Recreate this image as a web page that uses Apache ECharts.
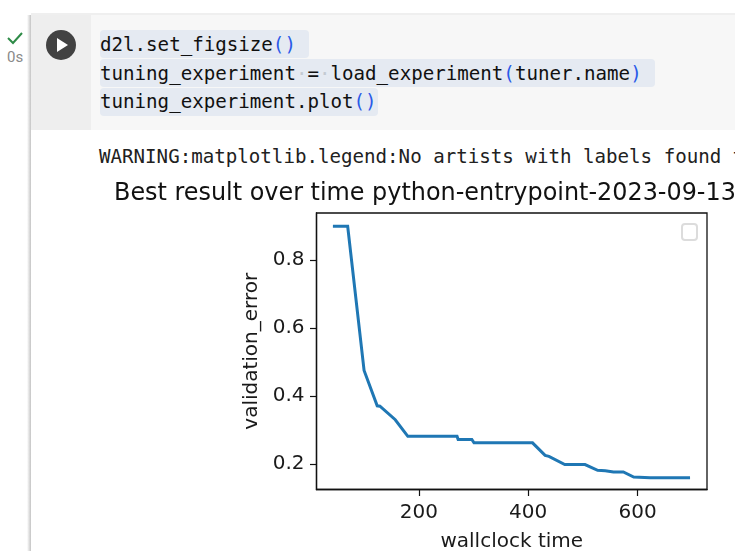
<!DOCTYPE html>
<html><head><meta charset="utf-8">
<style>
html,body{margin:0;padding:0;width:735px;height:551px;overflow:hidden;background:#fff;font-family:Roboto,sans-serif}
.abs{position:absolute}
#topshade{left:31px;top:13px;width:704px;height:2px;background:#efefef}
#shadow{left:27px;top:15px;width:4px;height:536px;background:linear-gradient(to right,#fff,#c4c4c4)}
#gutter{left:31px;top:15px;width:60px;height:115px;background:#eeeeee}
#cell{left:91px;top:15px;width:644px;height:115px;background:#f7f7f7}
.hl{background:#e5eaf2;border-radius:4px;height:28px}
.code{font-family:"DejaVu Sans Mono",monospace;font-size:19.15px;line-height:28px;color:#111;white-space:pre;left:100px}
.code b{font-weight:normal;color:#2a5ae8}
.code i{font-style:normal;color:#c4cad2}
#warn{left:99px;top:145px;font-family:"DejaVu Sans Mono",monospace;font-size:19.15px;line-height:24px;color:#212121;white-space:pre}
#t0{left:7px;top:48px;font-size:15px;color:#8a8a8a}
#chart{left:0;top:0;width:735px;height:551px}
</style></head><body>
<div class="abs" id="topshade"></div>
<div class="abs" id="shadow"></div>
<div class="abs" id="gutter"></div>
<div class="abs" id="cell"></div>
<div class="abs hl" style="left:100px;top:30px;width:209px"></div>
<div class="abs hl" style="left:100px;top:59px;width:555px"></div>
<div class="abs hl" style="left:100px;top:88px;width:278px"></div>
<div class="abs code" style="top:31px">d2l.set_figsize<b>()</b></div>
<div class="abs code" style="top:60px">tuning_experiment<i>·</i>=<i>·</i>load_experiment<b>(</b>tuner.name<b>)</b></div>
<div class="abs code" style="top:88px">tuning_experiment.plot<b>()</b></div>
<div class="abs" id="warn">WARNING:matplotlib.legend:No artists with labels found t</div>
<svg class="abs" style="left:5px;top:30px" width="20" height="16"><path d="M3 8 L8 13 L17 3" fill="none" stroke="#2e8b47" stroke-width="2"/></svg>
<div class="abs" id="t0">0s</div>
<svg class="abs" style="left:46px;top:30px" width="30" height="30"><circle cx="15" cy="15" r="15" fill="#424242"/><path d="M11 8 L22 15 L11 22 Z" fill="#fff"/></svg>
<div class="abs" id="chart"></div>
<script src="https://cdn.jsdelivr.net/npm/echarts@6/dist/echarts.min.js"></script>
<script>
const titleText = "Best result over time python-entrypoint-2023-09-13";
const xLabel = "wallclock time";
const yLabel = "validation_error";
const xTicks = [200, 400, 600];
const yTicks = [0.2, 0.4, 0.6, 0.8];
const wallclock = [43, 70, 100, 124, 129, 157, 180, 270, 272, 297, 301, 408, 431, 438, 467, 504, 527, 541, 556, 574, 593, 623, 696];
const validationError = [0.9, 0.9, 0.475, 0.371, 0.37, 0.33, 0.281, 0.281, 0.272, 0.272, 0.262, 0.262, 0.225, 0.222, 0.198, 0.198, 0.181, 0.18, 0.176, 0.176, 0.161, 0.159, 0.159];

const chart = echarts.init(document.getElementById('chart'), null, {renderer: 'canvas'});
const font = '"DejaVu Sans"';
const axisCommon = {
  axisLine: {show: true, lineStyle: {color: '#111', width: 1.3}},
  splitLine: {show: false},
  nameLocation: 'middle',
  nameTextStyle: {fontFamily: font, fontSize: 20, color: '#1a1a1a'}
};
chart.setOption({
  animation: false,
  backgroundColor: 'transparent',
  title: {text: titleText, left: 114, top: 182, padding: 0,
    textStyle: {fontFamily: font, fontSize: 23.9, fontWeight: 'normal', color: '#111'}},
  grid: {left: 316.5, top: 213, width: 390.5, height: 276.5, show: true, outerBoundsMode: 'none', borderColor: '#111', borderWidth: 1.3, backgroundColor: '#fff'},
  xAxis: Object.assign({}, axisCommon, {
    type: 'value', min: 13, max: 727, name: xLabel, nameGap: 42,
    axisTick: {show: true, customValues: xTicks, length: 6.5, lineStyle: {color: '#111', width: 1.2}},
    axisLabel: {show: true, customValues: xTicks, margin: 13, fontFamily: font, fontSize: 20, color: '#1a1a1a', formatter: v => String(v)}
  }),
  yAxis: Object.assign({}, axisCommon, {
    type: 'value', min: 0.1245, max: 0.939, name: yLabel, nameGap: 55,
    axisTick: {show: true, customValues: yTicks, length: 6.5, lineStyle: {color: '#111', width: 1.2}},
    axisLabel: {show: true, customValues: yTicks, margin: 12, fontFamily: font, fontSize: 20, color: '#1a1a1a', formatter: v => v.toFixed(1)}
  }),
  graphic: [{type: 'rect', left: 681, top: 223, z: 10,
    shape: {width: 15, height: 16, r: 3}, style: {fill: '#fff', stroke: '#dcdcdc', lineWidth: 2}}],
  series: [{type: 'line', showSymbol: false, data: wallclock.map((x, i) => [x, validationError[i]]),
    lineStyle: {color: '#1f77b4', width: 3, join: 'miter', cap: 'butt'}, itemStyle: {color: '#1f77b4'}}]
});
</script>
</body></html>
